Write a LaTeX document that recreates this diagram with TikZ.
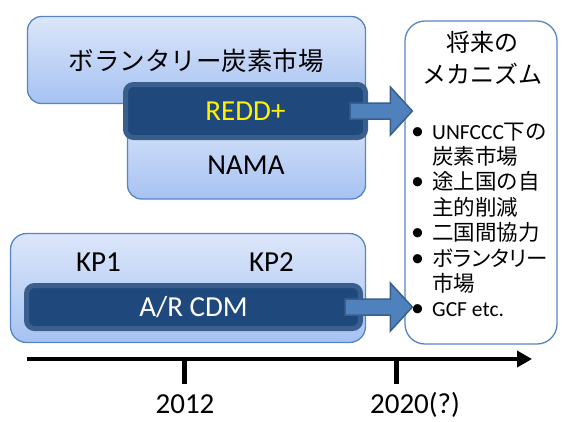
\documentclass[tikz,border=0pt]{standalone}
\usepackage{fontspec}
\setmainfont{Carlito}
\newfontfamily\jp{Noto Sans CJK JP}
\newfontfamily\jpp[RawFeature=+palt]{Noto Sans CJK JP}
\usetikzlibrary{calc}
\usetikzlibrary{arrows.meta}
\definecolor{boxtop}{HTML}{DCE6FA}
\definecolor{boxbot}{HTML}{A6C2F2}
\definecolor{boxline}{HTML}{5586C2}
\definecolor{darkfill}{HTML}{1F497D}
\definecolor{darkline}{HTML}{3A5F8D}
\definecolor{arrowfill}{HTML}{4F81BD}
\newcommand*{\bigtxt  }{\fontsize{29}{32}\selectfont}
\newcommand*{\jptxt   }{\fontsize{25.5}{30}\selectfont\jp}
\newcommand*{\titletxt}{\fontsize{24}{32}\selectfont\jp}
\newcommand*{\itemsz  }{\fontsize{21.5}{25}\selectfont}
\newcommand*{\dotsz   }{\fontsize{26}{25}\selectfont}
\newcommand*{\shft    }{8}
\newcommand*{\hdl     }{22}
\newcommand*{\hdw     }{24}
\newcommand*{\lsk     }{25.4}
\tikzset{
  lightbox/.style={draw=boxline, line width=1.3pt, top color=boxtop, bottom color=boxbot, rounded corners=14pt, inner sep=0pt},
  darkbox/.style={draw=darkline, line width=5pt, fill=darkfill, rounded corners=8pt, inner sep=0pt},
  blockarrow/.style={draw=darkline, line width=1.5pt, fill=arrowfill, line join=miter},
  itemline/.style={anchor=base west, inner sep=0pt, font=\itemsz},
  itemdot/.style={anchor=base, inner sep=0pt, font=\dotsz},
}
\begin{document}
\begin{tikzpicture}[x=1pt, y=-1pt, font=\bigtxt]
    \useasboundingbox (0,0) rectangle (562,421);
    % voluntary market, NAMA, REDD+
    \node [lightbox, minimum width=338pt, minimum height=87pt] (vol)  at (196.5,60) {};
    \node [font=\jptxt] (voltxt) at (196,61) {ボランタリー炭素市場};
    \node [lightbox, minimum width=238pt, minimum height=89pt] (nama) at (246.5,154.5) {};
    \node (namatxt) at (246,165) {NAMA};
    \node [darkbox, minimum width=240pt, minimum height=53pt, text=yellow] (redd) at (245.5,111) {REDD+};
    % Kyoto periods
    \node [lightbox, minimum width=355pt, minimum height=109pt, rounded corners=16pt] (kp) at (188,288) {};
    \node (kp1) at (98.5,262) {KP1};
    \node (kp2) at (271.5,262) {KP2};
    \node [darkbox, minimum width=334pt, minimum height=43pt, text=white] (arcdm) at (193.5,307) {A/R CDM};
    % future box
    \node [draw=boxline, line width=1.3pt, fill=white, rounded corners=20pt, minimum width=152pt, minimum height=323pt] (future) at (481,182.5) {};
    \node [align=center, font=\titletxt] (futtitle) at (482,58) {将来の\\メカニズム};
    \foreach \i/\dot/\txt in {0/1/{UNFCCC{\jp 下の}}, 1/0/{\jp 炭素市場}, 2/1/{\jp 途上国の自}, 3/0/{\jp 主的削減},
                              4/1/{\jp 二国間協力}, 5/1/{\jpp ボランタリー}, 6/0/{\jp 市場}, 7/1/{GCF etc.}}{
        \node [itemline] (line\i) at (432,139+\i*\lsk) {\txt};
        \ifnum\dot=1 \node [itemdot] (dot\i) at (417.5,139+\i*\lsk) {\textbullet}; \fi
    }
    % block arrows into the future box
    \foreach \src in {redd, arcdm}{
        \draw [blockarrow] let \p1=($(\src.east)+(-18,0)$), \p2=($(future.west |- \src.east)+(8,0)$) in
            (\x1,\y1+\shft) -- (\x2-\hdl,\y1+\shft) -- (\x2-\hdl,\y1+\hdw) -- (\x2,\y1)
            -- (\x2-\hdl,\y1-\hdw) -- (\x2-\hdl,\y1-\shft) -- (\x1,\y1-\shft) -- cycle;
    }
    % time axis
    \coordinate (tstart) at (27,359);
    \coordinate (tend)   at (532,359);
    \coordinate (t2012)  at (184.5,359);
    \coordinate (t2020)  at (396.5,359);
    \draw [line width=4.5pt, -{Triangle[length=15pt,width=16pt]}] (tstart) -- (tend);
    \node [anchor=base] (y2012) at (185,413.5) {2012};
    \node [anchor=base] (y2020) at (415,413.5) {2020(?)};
    \draw [line width=5pt] (t2012) -- ++(0,25);
    \draw [line width=5pt] (t2020) -- ++(0,25);
    %\draw [red] (0,0) rectangle (562,421);
\end{tikzpicture}
\end{document}
